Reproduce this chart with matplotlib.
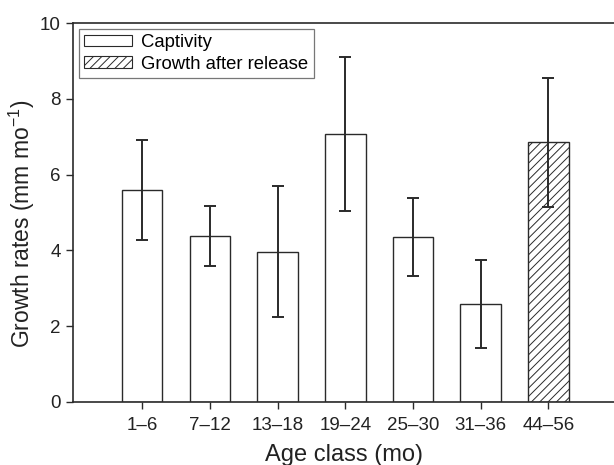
import numpy as np
import matplotlib
matplotlib.use("Agg")
import matplotlib.pyplot as plt
from matplotlib.patches import Patch

plt.rcParams['font.family'] = ['Liberation Sans', 'DejaVu Sans']
plt.rcParams['mathtext.fontset'] = 'custom'
plt.rcParams['mathtext.rm'] = 'Liberation Sans'
plt.rcParams['mathtext.it'] = 'Liberation Sans:italic'
plt.rcParams['hatch.linewidth'] = 0.7

# ── data ────────────────────────────────────────────────────────────────
age_classes = ['1–6', '7–12', '13–18', '19–24', '25–30', '31–36', '44–56']
growth      = [5.59, 4.37, 3.97, 7.08, 4.35, 2.59, 6.85]
err_low     = [4.27, 3.58, 2.25, 5.05, 3.32, 1.43, 5.15]
err_high    = [6.91, 5.16, 5.69, 9.10, 5.37, 3.75, 8.55]
released    = [False, False, False, False, False, False, True]

# ── figure ──────────────────────────────────────────────────────────────
fig = plt.figure(figsize=(6.14, 4.65), dpi=100)
ax = fig.add_axes([0.119, 0.1355, 0.881, 0.815])

x = np.arange(len(age_classes))
growth = np.array(growth)
yerr = np.vstack([growth - np.array(err_low), np.array(err_high) - growth])

edge = '#2a2a2a'
for xi, g, rel in zip(x, growth, released):
    ax.bar(xi, g, width=0.6, color='white', edgecolor=edge, linewidth=1.0,
           hatch='////' if rel else None, zorder=2)

ax.errorbar(x, growth, yerr=yerr, fmt='none', ecolor=edge, elinewidth=1.4,
            capsize=4.5, capthick=1.4, zorder=3)

ax.set_xlim(-1.02, 6.97)
ax.set_ylim(0, 10)
ax.set_xticks(x)
ax.set_xticklabels(age_classes)
ax.set_yticks([0, 2, 4, 6, 8, 10])

for s in ['left', 'bottom', 'top']:
    ax.spines[s].set_linewidth(1.2)
    ax.spines[s].set_color(edge)
ax.spines['right'].set_visible(False)
ax.tick_params(direction='out', length=5, width=1.0, color=edge,
               labelsize=13.5, labelcolor='#222222', pad=4)
ax.tick_params(axis='x', pad=6)

ax.set_xlabel('Age class (mo)', fontsize=17, color='#222222', labelpad=7)
ax.set_ylabel('Growth rates (mm mo$^{-1}$)', fontsize=16.5, color='#222222')
ax.yaxis.set_label_coords(-0.066, 0.47)

handles = [Patch(facecolor='white', edgecolor=edge, linewidth=0.8, label='Captivity'),
           Patch(facecolor='white', edgecolor=edge, linewidth=0.8, hatch='////',
                 label='Growth after release')]
leg = ax.legend(handles=handles, loc='upper left', fontsize=13.3, frameon=True,
                fancybox=False, borderaxespad=0.3, handlelength=2.6,
                handleheight=0.6, handletextpad=0.5, labelspacing=0.25,
                borderpad=0.3)
leg.get_frame().set_edgecolor('#555555')
leg.get_frame().set_linewidth(0.9)

fig.savefig('out.png', dpi=100)
